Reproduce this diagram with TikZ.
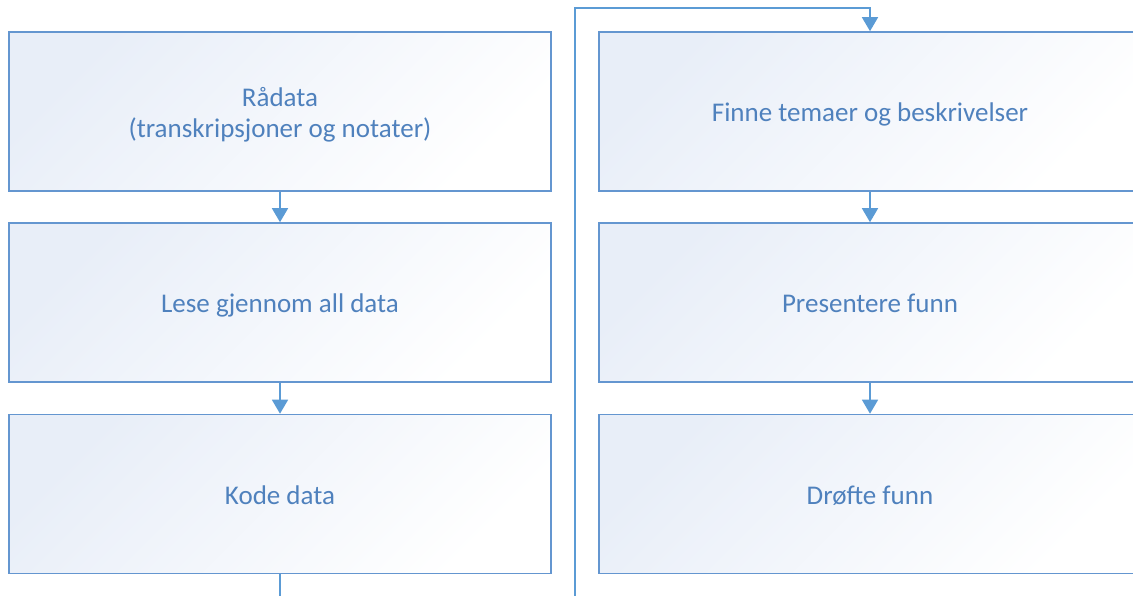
\documentclass[tikz,border=0pt]{standalone}
\usepackage{fontspec}
\setmainfont{Carlito}
\usetikzlibrary{arrows.meta}
\definecolor{lineblue}{HTML}{5B9BD5}
\definecolor{boxblue}{HTML}{6496D0}
\definecolor{textblue}{HTML}{4F81BD}
\definecolor{fillstart}{HTML}{E8EEF8}
\definecolor{fillmid}{HTML}{F7F9FD}
\newcommand\boxtext[1]{\raisebox{-4pt}[\height][\depth]{\begin{tabular}{@{}c@{}}#1\end{tabular}}}
\tikzset{
  stepbox/.style={draw=boxblue, line width=1.6pt, minimum width=542pt, minimum height=159pt,
    inner sep=0pt, top color=fillstart, middle color=fillmid, bottom color=white, shading angle=45,
    text=textblue, font=\fontsize{27}{31}\selectfont},
  conn/.style={draw=lineblue, line width=1.6pt, -{Triangle[length=14pt,width=16pt]}},
  plainconn/.style={draw=lineblue, line width=1.6pt}
}
\begin{document}
\begin{tikzpicture}[x=1pt,y=-1pt]
\clip (0,0) rectangle (1133,595);
\node[stepbox] (b1) at (280,111.5) {\boxtext{Rådata\\(transkripsjoner og notater)}};
\node[stepbox] (b2) at (280,302.5) {\boxtext{Lese gjennom all data}};
\node[stepbox] (b3) at (280,494) {\boxtext{Kode data}};
\node[stepbox] (b4) at (870,111.5) {\boxtext{Finne temaer og beskrivelser}};
\node[stepbox] (b5) at (870,302.5) {\boxtext{Presentere funn}};
\node[stepbox] (b6) at (870,494) {\boxtext{Drøfte funn}};
\coordinate (c1) at (280,600);
\coordinate (c2) at (575,600);
\coordinate (c3) at (575,8);
\coordinate (c4) at (870,8);
\draw[conn] (b1.south) -- (b2.north);
\draw[conn] (b2.south) -- (b3.north);
\draw[conn] (b4.south) -- (b5.north);
\draw[conn] (b5.south) -- (b6.north);
\draw[plainconn] (b3.south) -- (c1);
\draw[conn] (c2) -- (c3) -- (c4) -- (b4.north);
\end{tikzpicture}
\end{document}
